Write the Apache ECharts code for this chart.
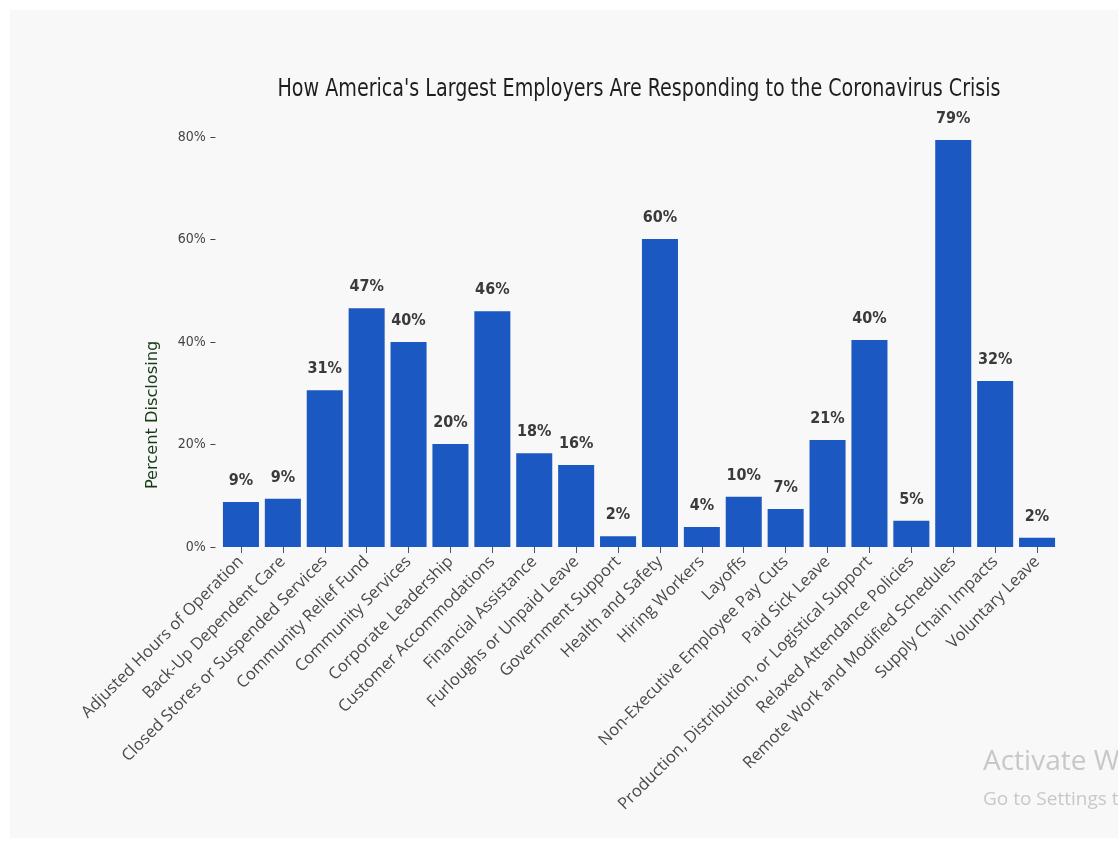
<!DOCTYPE html>
<html>
<head>
<meta charset="utf-8">
<script src="https://cdn.jsdelivr.net/npm/echarts@6/dist/echarts.min.js"></script>
<style>
html,body{margin:0;padding:0;background:#fff;}
#chart{width:1118px;height:841px;}
</style>
</head>
<body>
<div id="chart"></div>
<script>
const categories = [
  "Adjusted Hours of Operation",
  "Back-Up Dependent Care",
  "Closed Stores or Suspended Services",
  "Community Relief Fund",
  "Community Services",
  "Corporate Leadership",
  "Customer Accommodations",
  "Financial Assistance",
  "Furloughs or Unpaid Leave",
  "Government Support",
  "Health and Safety",
  "Hiring Workers",
  "Layoffs",
  "Non-Executive Employee Pay Cuts",
  "Paid Sick Leave",
  "Production, Distribution, or Logistical Support",
  "Relaxed Attendance Policies",
  "Remote Work and Modified Schedules",
  "Supply Chain Impacts",
  "Voluntary Leave"
];
const percentDisclosing = [8.8, 9.4, 30.6, 46.6, 40.0, 20.1, 46.0, 18.3, 16.0, 2.1, 60.1, 3.9, 9.8, 7.4, 20.9, 40.4, 5.1, 79.4, 32.4, 1.8];
const yTicks = [0, 20, 40, 60, 80];
const titleText = "How America's Largest Employers Are Responding to the Coronavirus Crisis";

const chart = echarts.init(document.getElementById('chart'));
const cond = '"DejaVu Sans Condensed", "Liberation Sans Narrow", sans-serif';
chart.setOption({
  backgroundColor: '#ffffff',
  animation: false,
  graphic: [
    {type: 'rect', z: -100, silent: true, shape: {x: 10, y: 10, width: 1108, height: 828}, style: {fill: '#f8f8f8'}},
    {type: 'text', z: 10, position: [639, 89], scaleX: 0.85, scaleY: 1,
     style: {text: titleText, font: '25px ' + cond, fill: '#1e1e1e', textAlign: 'center', textVerticalAlign: 'middle'}},
    {type: 'text', z: 10, rotation: Math.PI / 2, position: [146, 489], scaleX: 1.2,
     style: {text: 'Percent Disclosing', font: '15px ' + cond, fill: '#173d17'}},
    {type: 'text', z: 10, position: [983, 748], style: {text: 'Activate Windows', font: '28px "Open Sans", sans-serif', fill: '#c8c8c8'}},
    {type: 'text', z: 10, position: [983, 790], style: {text: 'Go to Settings to activate Windows.', font: '19px "Open Sans", sans-serif', fill: '#c8c8c8'}}
  ],
  grid: {left: 220, right: 60, top: 137, bottom: 294, containLabel: false},
  xAxis: {
    type: 'category',
    data: categories,
    axisLine: {show: false},
    axisTick: {show: true, alignWithLabel: true, length: 6, lineStyle: {color: '#555'}},
    axisLabel: {rotate: 45, interval: 0, margin: 12, fontSize: 16.5, color: '#4a4a4a', fontFamily: '"Open Sans", "DejaVu Sans", sans-serif'}
  },
  yAxis: {
    type: 'value', min: 0, max: 80, interval: 20,
    splitLine: {show: false},
    axisLine: {show: false},
    axisTick: {show: false},
    axisLabel: {formatter: v => yTicks.includes(v) ? v + '% –' : '', fontSize: 14, color: '#444', margin: 4, fontFamily: cond}
  },
  series: [{
    type: 'bar',
    data: percentDisclosing,
    barCategoryGap: '14%',
    itemStyle: {color: '#1b58c2'},
    label: {
      show: true, position: 'top', distance: 13,
      formatter: p => Math.round(p.value) + '%',
      fontFamily: cond, fontWeight: 'bold', fontSize: 16, color: '#3a3a3a'
    }
  }]
});
</script>
</body>
</html>
